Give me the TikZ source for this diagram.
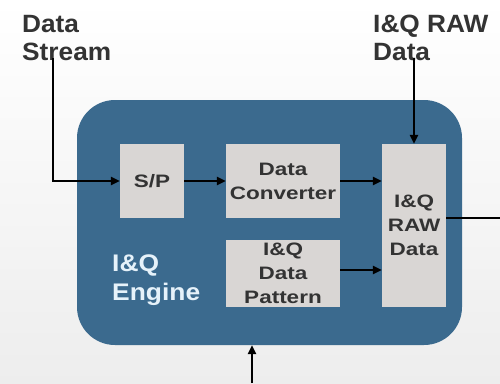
\documentclass[tikz,border=0pt]{standalone}
\usepackage{fontspec}
\setmainfont{Liberation Sans}
\newfontfamily\topfont[FakeStretch=1.05]{Liberation Sans}
\newfontfamily\boxfont[FakeStretch=1.25]{Liberation Sans}
\newfontfamily\engfont[FakeStretch=1.1]{Liberation Sans}
\usetikzlibrary{arrows.meta}
\definecolor{engblue}{HTML}{3B6A8E}
\definecolor{boxgrey}{HTML}{D9D6D4}
\definecolor{txtgrey}{HTML}{333333}
\definecolor{englight}{HTML}{E6F2FA}
\begin{document}
\begin{tikzpicture}[x=1pt,y=-1pt,
  engine/.style={fill=engblue,draw=none,rounded corners=38pt,minimum width=385pt,minimum height=245pt,inner sep=0pt},
  blockbox/.style={fill=boxgrey,draw=none,inner sep=0pt,align=center,text=txtgrey,
     font=\boxfont\bfseries\fontsize{18}{24}\selectfont},
  toplbl/.style={inner sep=0pt,align=left,text=txtgrey,font=\topfont\bfseries\fontsize{25}{28}\selectfont},
  englbl/.style={inner sep=0pt,align=left,text=englight,font=\engfont\bfseries\fontsize{24}{29}\selectfont},
  arr/.style={draw=black,line width=1.5pt,-{Triangle[length=9pt,width=8.5pt]}},
  plainline/.style={draw=black,line width=1.5pt}]
\useasboundingbox (0,0) rectangle (500,383);
\shade[top color=white,bottom color=black!7] (0,0) rectangle (500,383);
\node[engine] (eng) at (269.5,222.5) {};
\node[blockbox,minimum width=64pt,minimum height=74pt] (sp) at (152,181) {S/P};
\node[blockbox,minimum width=114pt,minimum height=74pt] (conv) at (283,181) {Data\\Converter};
\node[blockbox,minimum width=114pt,minimum height=67pt] (pat) at (283,273.5) {I\&Q\\Data\\Pattern};
\node[blockbox,minimum width=64pt,minimum height=163pt] (raw) at (414,225.5) {I\&Q\\RAW\\Data};
\node[toplbl,anchor=north west] (dslbl) at (22,15) {Data\\Stream};
\node[toplbl,anchor=north west] (rawlbl) at (373,15) {I\&Q RAW\\Data};
\node[englbl,anchor=north west] (englbl) at (112,255) {I\&Q\\Engine};
\coordinate (dsin) at (53,58);
\coordinate (rawin) at (414,58);
\coordinate (outend) at (500,218);
\coordinate (botin) at (252,383);
\draw[arr] (dsin) |- (sp.west);
\draw[arr] (sp.east) -- (conv.west);
\draw[arr] (conv.east) -- (raw.west |- conv.east);
\draw[arr] (pat.east |- 0,270) -- (raw.west |- 0,270);
\draw[arr] (rawin) -- (raw.north);
\draw[plainline] (raw.east |- outend) -- (outend);
\draw[arr] (botin) -- (botin |- eng.south);
\end{tikzpicture}
\end{document}
